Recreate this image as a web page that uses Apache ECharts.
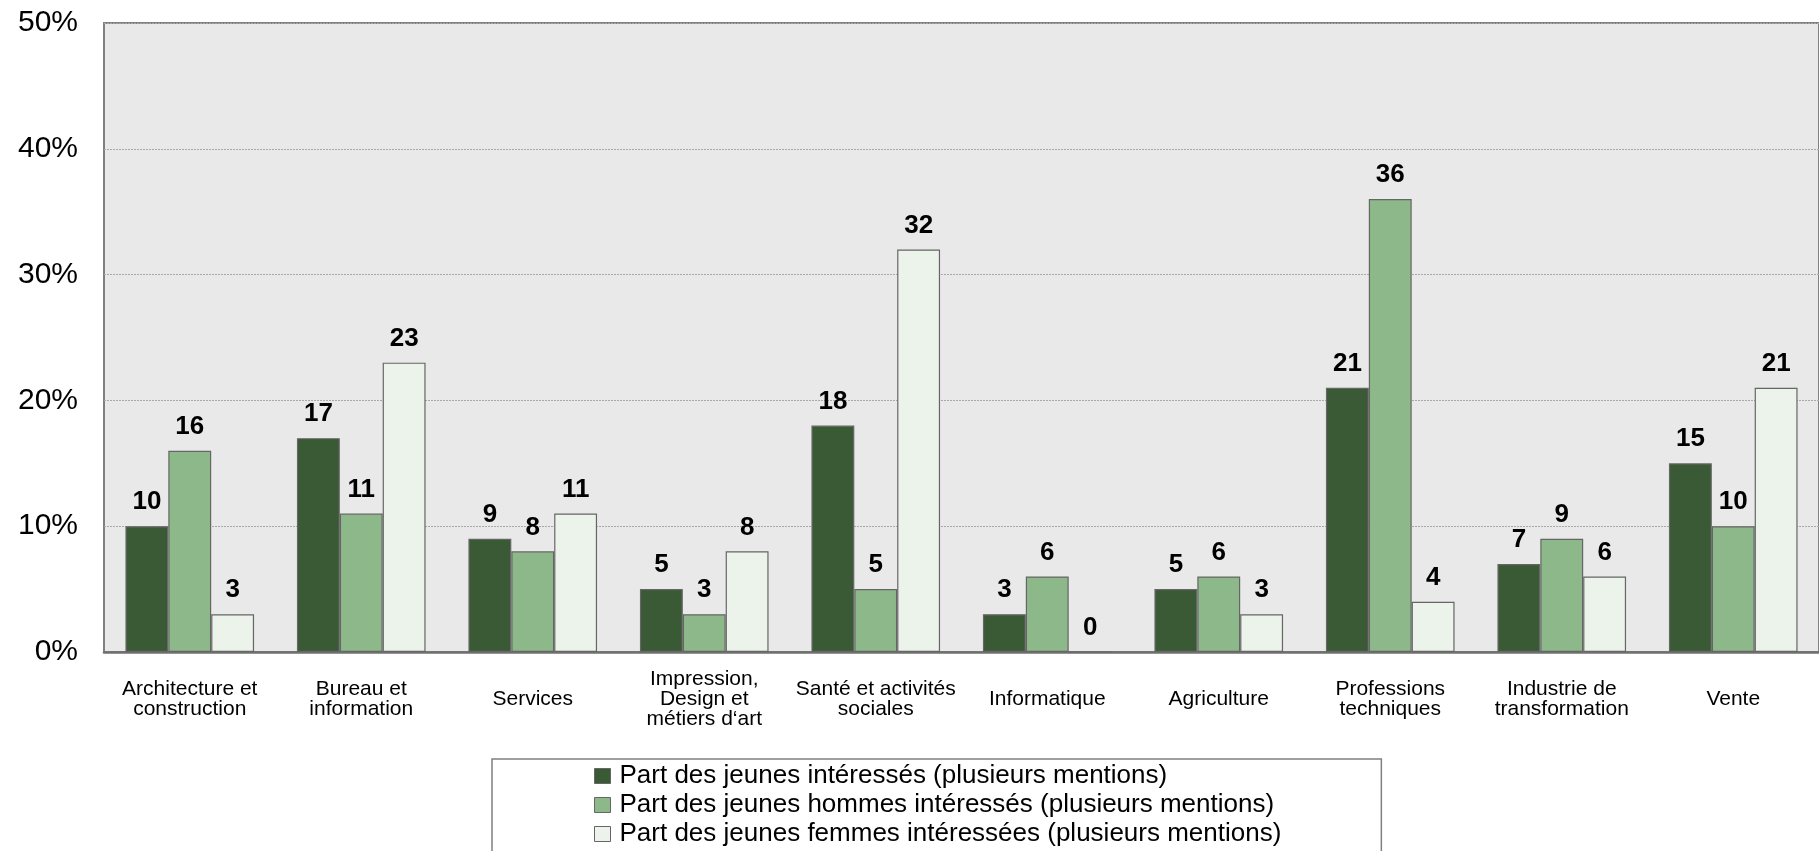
<!DOCTYPE html>
<html>
<head>
<meta charset="utf-8">
<script src="https://cdn.jsdelivr.net/npm/echarts@6/dist/echarts.min.js"></script>
<style>
  html, body { margin: 0; padding: 0; background: #fff; }
  #chart { width: 1819px; height: 851px; }
</style>
</head>
<body>
<div id="chart"></div>
<script>
// domaines professionnels
const categories = [
  "Architecture et\nconstruction",
  "Bureau et\ninformation",
  "Services",
  "Impression,\nDesign et\nmétiers d‘art",
  "Santé et activités\nsociales",
  "Informatique",
  "Agriculture",
  "Professions\ntechniques",
  "Industrie de\ntransformation",
  "Vente"
];
const jeunes = [10, 17, 9, 5, 18, 3, 5, 21, 7, 15];
const hommes = [16, 11, 8, 3, 5, 6, 6, 36, 9, 10];
const femmes = [3, 23, 11, 8, 32, 0, 3, 4, 6, 21];
const yTicks = [0, 10, 20, 30, 40, 50];

const names = [
  "Part des jeunes intéressés (plusieurs mentions)",
  "Part des jeunes hommes intéressés (plusieurs mentions)",
  "Part des jeunes femmes intéressées (plusieurs mentions)"
];
const colors = ["#3a5a35", "#8db889", "#ebf3ea"];
const FONT = "Liberation Sans, Arial, sans-serif";

function barSeries(i, data) {
  return {
    name: names[i],
    type: "bar",
    data: data,
    barGap: "0%",
    barCategoryGap: "25%",
    itemStyle: { color: colors[i], borderColor: "#666", borderWidth: 1.2 },
    label: {
      show: true,
      position: "top",
      distance: 11,
      fontFamily: FONT,
      fontWeight: "bold",
      fontSize: 26,
      lineHeight: 26,
      color: "#000"
    }
  };
}

const chart = echarts.init(document.getElementById("chart"));
chart.setOption({
  animation: false,
  backgroundColor: "#fff",
  grid: {
    left: 104, top: 23, right: -14, bottom: 199,
    show: true,
    backgroundColor: "#e9e9e9",
    borderColor: "#808080",
    borderWidth: 2
  },
  legend: {
    orient: "vertical",
    left: 492,
    top: 759,
    width: 891,
    height: 140,
    padding: [4, 100, 14, 102],
    backgroundColor: "#fff",
    borderColor: "#808080",
    borderWidth: 1.5,
    icon: "rect",
    itemWidth: 16,
    itemHeight: 15,
    itemGap: 3,
    itemStyle: { borderColor: "#666", borderWidth: 1 },
    textStyle: { fontFamily: FONT, fontSize: 26, color: "#000", lineHeight: 26, padding: [0, 0, 0, 4] },
    data: names
  },
  xAxis: {
    type: "category",
    data: categories,
    axisLine: { lineStyle: { color: "#707070", width: 2.5 } },
    axisTick: { show: false },
    axisLabel: {
      interval: 0,
      margin: 47,
      verticalAlign: "middle",
      fontFamily: FONT,
      fontSize: 21,
      lineHeight: 20,
      color: "#000"
    }
  },
  yAxis: {
    type: "value",
    min: yTicks[0],
    max: yTicks[yTicks.length - 1],
    interval: 10,
    axisLine: { show: false },
    axisTick: { show: false },
    splitLine: { lineStyle: { color: "#a8a8a8", type: [2, 1], width: 1 } },
    axisLabel: {
      margin: 26,
      formatter: "{value}%",
      fontFamily: FONT,
      fontSize: 30,
      color: "#000"
    }
  },
  series: [barSeries(0, jeunes), barSeries(1, hommes), barSeries(2, femmes)]
});
</script>
</body>
</html>
